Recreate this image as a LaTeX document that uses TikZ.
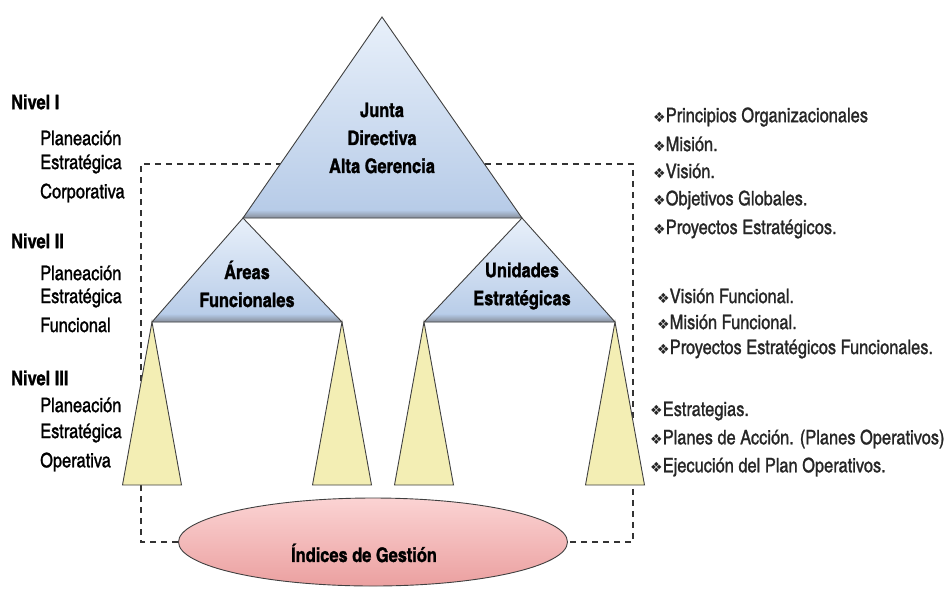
\documentclass[tikz,border=0pt]{standalone}
\usepackage{fontspec}
\setmainfont{texgyreheroscn}[Extension=.otf, UprightFont=*-regular, BoldFont=*-bold, ItalicFont=*-italic, BoldItalicFont=*-bolditalic, UprightFeatures={FakeBold=1.2}, BoldFeatures={FakeBold=1.2}]
\newfontfamily\simbolos{DejaVu Sans}
\usetikzlibrary{shapes.geometric, positioning, calc}
\definecolor{azulclaro}{HTML}{E8F0FA}
\definecolor{azuloscuro}{HTML}{B5CAE7}
\definecolor{grisbase}{HTML}{868D99}
\definecolor{amarclaro}{HTML}{FCFBE2}
\definecolor{amaroscuro}{HTML}{F3EEB4}
\definecolor{rosaclaro}{HTML}{FBD3D3}
\definecolor{rosaoscuro}{HTML}{EBA0A0}
\newcommand{\vin}{{\simbolos\fontsize{14}{14}\selectfont ❖}}

\tikzset{
  nivel/.style={anchor=west, inner sep=0pt, font=\bfseries\fontsize{20}{22}\selectfont},
  subnivel/.style={anchor=west, inner sep=0pt, font=\fontsize{20}{22}\selectfont},
  item/.style={anchor=west, inner sep=0pt, text=black!85, font=\fontsize{20}{22}\selectfont},
  titulo/.style={align=center, inner sep=0pt, font=\bfseries\fontsize{20}{28}\selectfont},
  borde/.style={draw=black!75, line width=0.9pt},
  azul/.style={top color=azulclaro, bottom color=azuloscuro},
  amarillo/.style={borde, left color=amaroscuro, middle color=amarclaro, right color=amaroscuro},
  marco/.style={draw=black!80, line width=1.8pt, dash pattern=on 6pt off 5pt}
}

\begin{document}
\begin{tikzpicture}[x=1pt, y=-1pt]
  \useasboundingbox (0,0) rectangle (950,590);
  % Vertices
  \coordinate (cima) at (382,17);
  \coordinate (bi) at (243,218);
  \coordinate (bd) at (522,218);
  \coordinate (ai) at (152,322);
  \coordinate (ad) at (342,322);
  \coordinate (ui) at (424,322);
  \coordinate (ud) at (615,322);
  \coordinate (m1) at (141,164);
  \coordinate (m2) at (633,164);

  % La elipse
  \node[ellipse, borde, top color=rosaclaro, bottom color=rosaoscuro,
        minimum width=389pt, minimum height=88pt] (indices) at (373,542) {};
  \node[titulo] (txtindices) at (364,553) {Índices de Gestión};

  % Marco punteado
  \draw[marco] (indices.west) -| (m1) -- (m2) |- (indices.east);

  % Triangulos amarillos
  \foreach \v in {ai,ad,ui,ud}
    \draw[amarillo] (\v) -- ($(\v)+(-29.5,163)$) -- ($(\v)+(29.5,163)$) -- cycle;

  % Triangulos azules
  \foreach \a/\b/\c in {bi/ai/ad, bd/ui/ud, cima/bi/bd} {
    \shade[azul] (\a) -- (\b) -- (\c) -- cycle;
    \begin{scope}
      \clip (\a) -- (\b) -- (\c) -- cycle;
      \shade[top color=azuloscuro, bottom color=grisbase] ($(\b)+(0,-8)$) rectangle (\c);
    \end{scope}
    \draw[borde] (\a) -- (\b) -- (\c) -- cycle;
  }

  \node[titulo] (junta) at (382,138) {Junta\\Directiva\\Alta Gerencia};
  \node[titulo] (areas) at (247,284) {Áreas\\Funcionales};
  \node[titulo] (unidades) at (522,286) {Unidades\\Estratégicas};

  % Niveles
  \node[nivel] (n1) at (11,102) {Nivel I};
  \node[subnivel] (n1a) at (40,138) {Planeación};
  \node[subnivel] (n1b) at (40,164) {Estratégica};
  \node[subnivel] (n1c) at (40,193) {Corporativa};
  \node[nivel] (n2) at (11,241) {Nivel II};
  \node[subnivel] (n2a) at (40,273) {Planeación};
  \node[subnivel] (n2b) at (40,298) {Estratégica};
  \node[subnivel] (n2c) at (40,325) {Funcional};
  \node[nivel] (n3) at (11,378) {Nivel III};
  \node[subnivel] (n3a) at (40,405) {Planeación};
  \node[subnivel] (n3b) at (40,433) {Estratégica};
  \node[subnivel] (n3c) at (40,462) {Operativa};

  % Lista de la derecha
  \node[item] (p1) at (653,117) {\vin Principios Organizacionales};
  \node[item] (p2) at (653,144) {\vin Misión.};
  \node[item] (p3) at (653,171) {\vin Visión.};
  \node[item] (p4) at (653,200) {\vin Objetivos Globales.};
  \node[item] (p5) at (653,229) {\vin Proyectos Estratégicos.};
  \node[item] (f1) at (657,296) {\vin Visión Funcional.};
  \node[item] (f2) at (657,322) {\vin Misión Funcional.};
  \node[item] (f3) at (657,349) {\vin Proyectos Estratégicos Funcionales.};
  \node[item] (o1) at (650,411) {\vin Estrategias.};
  \node[item] (o2) at (650,439) {\vin Planes de Acción. (Planes Operativos)};
  \node[item] (o3) at (650,467) {\vin Ejecución del Plan Operativos.};
\end{tikzpicture}
\end{document}
